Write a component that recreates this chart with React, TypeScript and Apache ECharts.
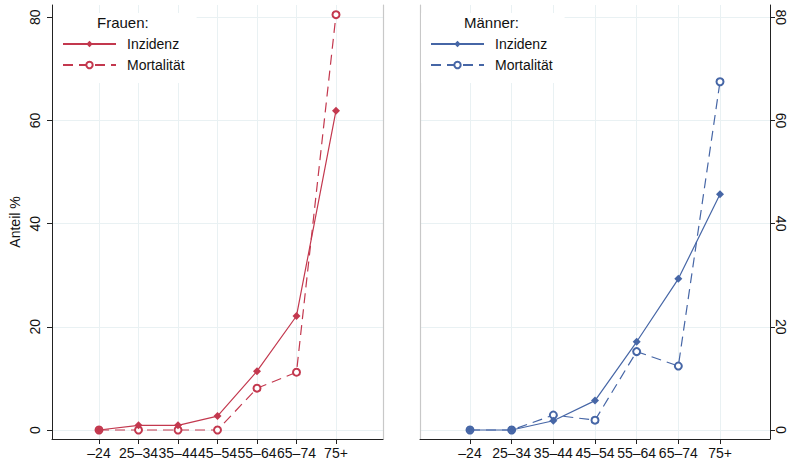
import React, { useEffect, useRef } from "react";
import * as echarts from "echarts";

const categories = ["–24", "25–34", "35–44", "45–54", "55–64", "65–74", "75+"];
const frauenInzidenz = [0, 0.9, 0.9, 2.7, 11.4, 22.1, 61.9];
const frauenMortalitaet = [0, 0, 0, 0, 8.1, 11.2, 80.5];
const maennerInzidenz = [0, 0, 1.8, 5.7, 17.1, 29.3, 45.7];
const maennerMortalitaet = [0, 0, 2.9, 1.9, 15.2, 12.4, 67.5];
const yTicks = [0, 20, 40, 60, 80];
const xTicks = [1, 2, 3, 4, 5, 6, 7];

const RED = "#c3384e";
const BLUE = "#4666a6";
const GRIDC = "#e9f1f3";
const FONT = "Liberation Sans, Arial, sans-serif";

const toPairs = (arr: number[]) => arr.map((v, i) => [i + 1, v]);

export default function App() {
  const ref = useRef<HTMLDivElement>(null);
  useEffect(() => {
    if (!ref.current) return;
    const chart = echarts.init(ref.current, undefined, { renderer: "svg" });
    const yMin = -1.745;
    const yMax = 82.38;
    const xAxisBase = (min: number, max: number, grid: number) => ({
      type: "value",
      gridIndex: grid,
      min,
      max,
      axisLine: { show: true, onZero: false, lineStyle: { color: "#222", width: 1 } },
      axisTick: { show: true, length: 5, customValues: xTicks, lineStyle: { color: "#222" } },
      axisLabel: {
        customValues: xTicks,
        formatter: (v: number) => categories[Math.round(v) - 1] ?? "",
        fontSize: 14,
        color: "#111",
        fontFamily: FONT,
        margin: 7,
      },
      splitLine: { show: true, lineStyle: { color: GRIDC, width: 1 } },
    });
    const yMain = (grid: number, position: string, rotate: number, margin: number) => ({
      type: "value",
      gridIndex: grid,
      position,
      min: yMin,
      max: yMax,
      axisLine: { show: true, onZero: false, lineStyle: { color: "#222", width: 1 } },
      axisTick: { show: true, length: 5, customValues: yTicks, lineStyle: { color: "#222" } },
      axisLabel: {
        customValues: yTicks,
        rotate,
        fontSize: 14,
        color: "#111",
        fontFamily: FONT,
        margin,
      },
      splitLine: { show: true, lineStyle: { color: GRIDC, width: 1 } },
    });
    const yBorder = (grid: number, position: string) => ({
      type: "value",
      gridIndex: grid,
      position,
      min: yMin,
      max: yMax,
      axisLine: { show: true, onZero: false, lineStyle: { color: "#c8c8c8", width: 1.2 } },
      axisTick: { show: false },
      axisLabel: { show: false },
      splitLine: { show: false },
    });
    const legend = (left: number, names: string[]) => ({
      orient: "vertical",
      left,
      top: 13,
      padding: [24, 12, 11, 9],
      backgroundColor: "#fff",
      itemWidth: 53,
      itemHeight: 8,
      itemGap: 7,
      data: names,
      formatter: (n: string) => n.split(" ")[1],
      textStyle: { fontSize: 14, color: "#111", fontFamily: FONT, padding: [0, 0, 0, 6] },
    });
    const lineSeries = (
      name: string,
      values: number[],
      color: string,
      axis: number,
      dashed: boolean
    ) => ({
      name,
      type: "line",
      xAxisIndex: axis,
      yAxisIndex: axis === 0 ? 0 : 2,
      data: toPairs(values),
      symbol: dashed ? "emptyCircle" : "diamond",
      symbolSize: dashed ? 7 : 8,
      clip: false,
      z: dashed ? 3 : 4,
      itemStyle: { color, borderWidth: 1.2 },
      lineStyle: { color, width: 1.2, type: dashed ? [10, 6] : "solid" },
    });
    chart.setOption({
      animation: false,
      backgroundColor: "#fff",
      textStyle: { fontFamily: FONT },
      title: [
        { text: "Frauen:", left: 97, top: 15, padding: 0, z: 10, textStyle: { fontSize: 15, fontWeight: "normal", color: "#111", fontFamily: FONT } },
        { text: "Männer:", left: 464, top: 15, padding: 0, z: 10, textStyle: { fontSize: 15, fontWeight: "normal", color: "#111", fontFamily: FONT } },
      ],
      grid: [
        { left: 52, right: 405, top: 5, bottom: 24 },
        { left: 420, right: 18, top: 5, bottom: 24 },
      ],
      xAxis: [xAxisBase(-0.19, 8.19, 0), xAxisBase(-0.2, 8.2, 1)],
      yAxis: [
        {
          ...yMain(0, "left", 90, 10),
          name: "Anteil %",
          nameLocation: "middle",
          nameGap: 30,
          nameTextStyle: { fontSize: 14, color: "#111", fontFamily: FONT },
        },
        yBorder(0, "right"),
        yMain(1, "right", -90, 4),
        yBorder(1, "left"),
      ],
      legend: [
        legend(53, ["Frauen Inzidenz", "Frauen Mortalität"]),
        legend(421, ["Männer Inzidenz", "Männer Mortalität"]),
      ],
      series: [
        lineSeries("Frauen Mortalität", frauenMortalitaet, RED, 0, true),
        lineSeries("Frauen Inzidenz", frauenInzidenz, RED, 0, false),
        lineSeries("Männer Mortalität", maennerMortalitaet, BLUE, 1, true),
        lineSeries("Männer Inzidenz", maennerInzidenz, BLUE, 1, false),
      ],
    });
    return () => chart.dispose();
  }, []);
  return <div ref={ref} style={{ width: 788, height: 463, position: "absolute", left: 0, top: 0 }} />;
}
